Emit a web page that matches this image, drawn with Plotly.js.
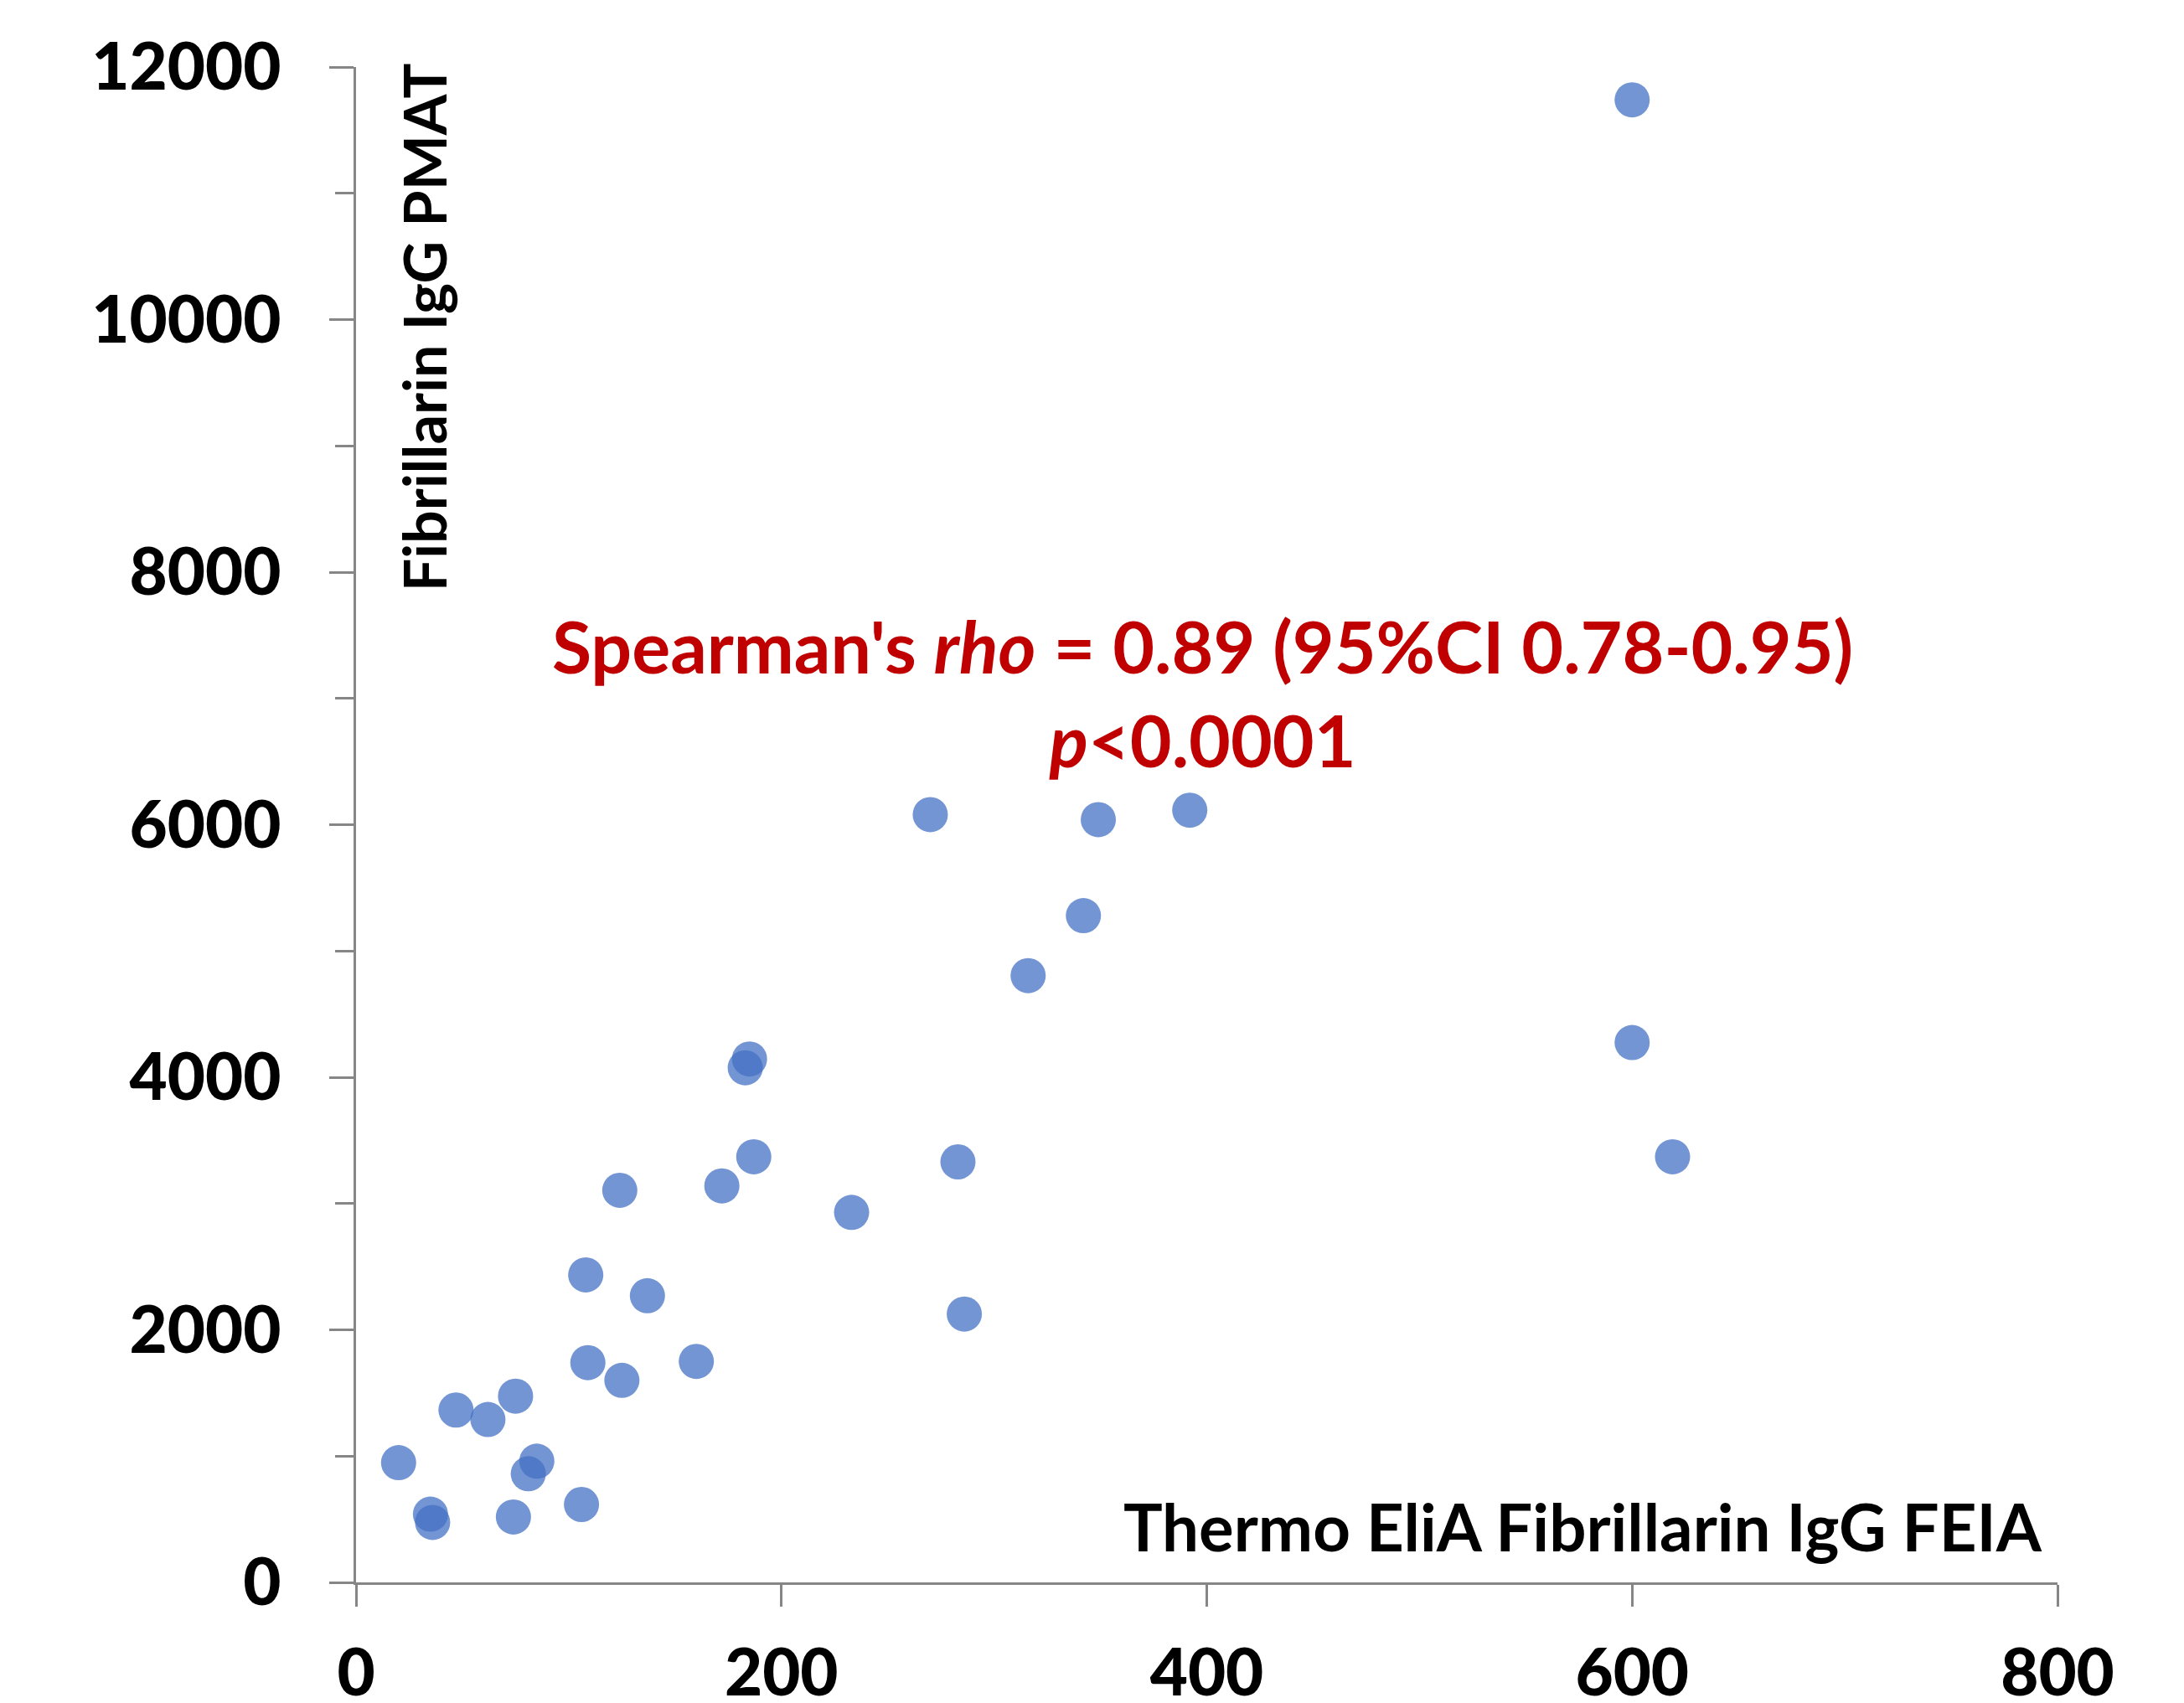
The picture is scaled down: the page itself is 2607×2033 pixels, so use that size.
<!DOCTYPE html>
<html>
<head>
<meta charset="utf-8">
<script src="https://cdn.plot.ly/plotly-3.0.1.min.js"></script>
<style>html,body{margin:0;padding:0;background:#fff;}#chart{width:2607px;height:2033px;}</style>
</head>
<body>
<div id="chart"></div>
<script>
// Thermo EliA Fibrillarin IgG FEIA values (x) and Fibrillarin IgG PMAT values (y)
const feia = [600, 270, 349, 392, 342, 316, 600, 185, 183, 619, 187, 283, 124, 172, 233,
              108, 137, 286, 109, 160, 125, 75, 47, 62, 20, 85, 81, 35, 36, 74, 106];
const pmat = [11740, 6080, 6040, 6115, 5280, 4805, 4275, 4145, 4075, 3370, 3370, 3330, 3105, 3140, 2930,
              2435, 2270, 2125, 1740, 1750, 1600, 1475, 1365, 1290, 948, 960, 860, 540, 475, 518, 617];
const xTicks = [0, 200, 400, 600, 800];
const yTicks = [0, 2000, 4000, 6000, 8000, 10000, 12000];

const xTitle = 'Thermo EliA Fibrillarin IgG FEIA';
const yTitle = 'Fibrillarin IgG PMAT';
const statText = "Spearman's <i>rho</i> = 0.89 (95%CI 0.78-0.95)<br><i>p</i>&lt;0.0001";

const FONT = 'Lato, "Open Sans", sans-serif';
const axisCol = '#868686';

const trace = {
  type: 'scatter',
  mode: 'markers',
  x: feia,
  y: pmat,
  cliponaxis: false,
  marker: {size: 42, color: '#4472C4', opacity: 0.75, line: {width: 0}},
  hoverinfo: 'x+y'
};

const common = {
  showline: true, linecolor: axisCol, linewidth: 3,
  ticks: 'outside', tickcolor: axisCol, tickwidth: 3,
  showgrid: false, zeroline: false,
  tickfont: {family: FONT, size: 78, color: '#000', weight: 900},
  fixedrange: true
};

const layout = {
  width: 2607, height: 2033,
  margin: {l: 425, r: 151, t: 80, b: 144, pad: 0},
  paper_bgcolor: '#fff', plot_bgcolor: '#fff',
  showlegend: false,
  xaxis: Object.assign({}, common, {
    range: [0, 800], tickvals: xTicks, ticktext: xTicks.map(String),
    ticklen: 26, ticklabelstandoff: 12
  }),
  yaxis: Object.assign({}, common, {
    range: [0, 12000], tickvals: yTicks, ticktext: yTicks.map(String),
    ticklen: 29, ticklabelstandoff: 42,
    minor: {ticks: 'outside', ticklen: 22, tickwidth: 3, tickcolor: axisCol, dtick: 1000, showgrid: false}
  }),
  annotations: [
    {
      xref: 'x', yref: 'y', x: 577, y: 444,
      text: xTitle, showarrow: false,
      font: {family: FONT, size: 78, color: '#000', weight: 700},
      xanchor: 'center', yanchor: 'middle'
    },
    {
      xref: 'x', yref: 'y', x: 32, y: 9937,
      text: yTitle, showarrow: false, textangle: -90,
      font: {family: FONT, size: 70, color: '#000', weight: 700},
      xanchor: 'center', yanchor: 'middle'
    },
    {
      xref: 'x', yref: 'y', x: 398, y: 7051,
      text: statText, showarrow: false, align: 'center',
      font: {family: FONT, size: 86, color: '#C00000', weight: 700},
      xanchor: 'center', yanchor: 'middle'
    }
  ]
};

Plotly.newPlot('chart', [trace], layout, {displayModeBar: false, staticPlot: true});
</script>
</body>
</html>
